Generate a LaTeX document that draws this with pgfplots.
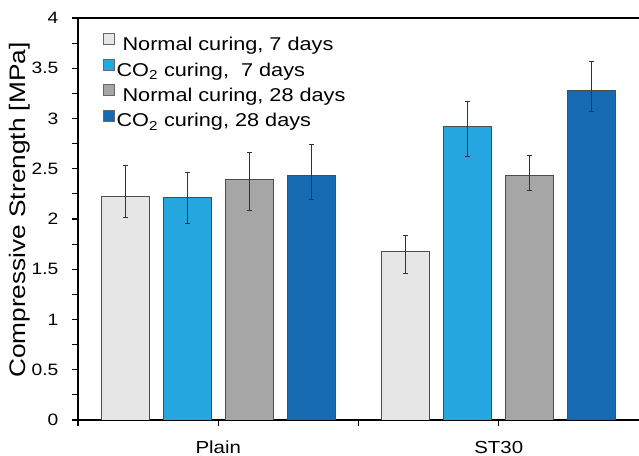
\documentclass[border=0pt]{standalone}
\usepackage{pgfplots}
\pgfplotsset{compat=1.18}
\usepackage{fontspec}
\setmainfont{Liberation Sans}[FakeStretch=1.17]
\definecolor{cA}{HTML}{E6E6E6}
\definecolor{cB}{HTML}{26A6DF}
\definecolor{cC}{HTML}{A6A6A6}
\definecolor{cD}{HTML}{156AB2}
\begin{document}
\begin{tikzpicture}
\useasboundingbox (0,0) rectangle (639bp,456bp);
\begin{axis}[
  at={(78bp,36bp)}, anchor=south west,
  scale only axis,
  width=561bp, height=402bp,
  xmin=-0.5, xmax=1.5,
  ymin=0, ymax=4,
  axis x line=box, axis y line=left,
  xtick pos=left,
  axis line style={-, line width=1.3bp, black},
  xtick={-0.5,0,0.5,1}, xticklabels={,Plain,,ST30},
  ytick={0,0.5,...,4},
  minor y tick num=1,
  tick align=outside,
  major tick length=5.5bp, minor tick length=5.5bp,
  tick style={line width=1.1bp, black},
  /pgf/number format/assume math mode=true,
  yticklabel style={font=\fontsize{16.5}{19}\selectfont, anchor=east, inner sep=0pt, xshift=-14bp},
  xticklabel style={font=\fontsize{17.5}{20}\selectfont, anchor=base, inner sep=0pt, yshift=-28bp},
  ylabel={Compressive Strength [MPa]},
  ylabel style={font=\fontsize{22.5}{26}\selectfont, at={(axis description cs:-0.0927,0.522)}, anchor=base, inner sep=0pt},
  ybar, bar width=0.171,
  every axis plot/.append style={draw=black!70, line width=0.9bp},
  error bars/error bar style={line width=0.9bp, black!80},
  error bars/error mark options={rotate=90, mark size=2.5bp, line width=0.9bp, black!80},
  legend style={draw=none, fill=none, at={(axis description cs:0.0446,0.962)}, anchor=north west,
    font=\fontsize{18.6}{21}\selectfont, row sep=5bp, inner sep=0pt,
    nodes={inner sep=1.5bp},
    cells={anchor=west}},
  legend image code/.code={\draw[#1, draw=black!60, line width=0.8bp] (0bp,0bp) rectangle (11bp,11bp);},
]
\addplot[fill=cA, bar shift=-0.331, error bars/.cd, y dir=both, y explicit]
  coordinates {(0,2.22) += (0,0.31) -= (0,0.20) (1,1.68) += (0,0.16) -= (0,0.22)};
\addlegendentry{\ Normal curing, 7 days}
\addplot[fill=cB, bar shift=-0.110, error bars/.cd, y dir=both, y explicit]
  coordinates {(0,2.21) += (0,0.25) -= (0,0.25) (1,2.92) += (0,0.25) -= (0,0.30)};
\addlegendentry{CO\textsubscript{2} curing,\ \ 7 days}
\addplot[fill=cC, bar shift=0.110, error bars/.cd, y dir=both, y explicit]
  coordinates {(0,2.395) += (0,0.265) -= (0,0.305) (1,2.43) += (0,0.20) -= (0,0.145)};
\addlegendentry{\ Normal curing, 28 days}
\addplot[fill=cD, bar shift=0.331, error bars/.cd, y dir=both, y explicit]
  coordinates {(0,2.43) += (0,0.31) -= (0,0.24) (1,3.28) += (0,0.29) -= (0,0.205)};
\addlegendentry{CO\textsubscript{2} curing, 28 days}
\end{axis}
\end{tikzpicture}
\end{document}
